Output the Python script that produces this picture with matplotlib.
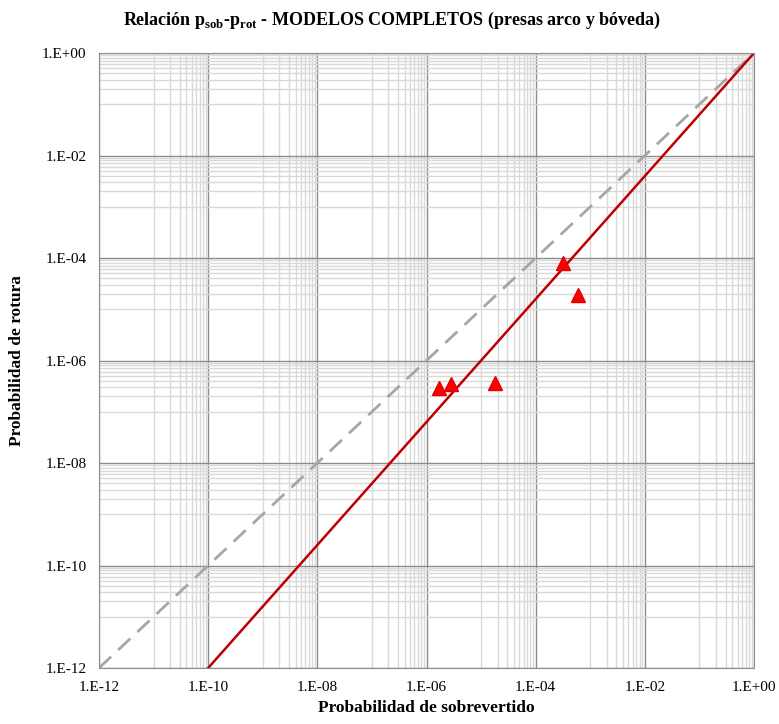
import numpy as np
import matplotlib
matplotlib.use("Agg")
import matplotlib.pyplot as plt
from matplotlib.ticker import FixedLocator, FuncFormatter, NullFormatter

# observed points (p_sob, p_rot)
p_sob = [1.7e-6, 2.8e-6, 1.8e-5, 3.2e-4, 6.0e-4]
p_rot = [2.9e-7, 3.5e-7, 3.6e-7, 8.1e-5, 1.9e-5]

# reference lines
line_x = [1e-12, 1e0]
fit_exp = 1.2  # p_rot = p_sob ** 1.2

major_exps = list(range(-12, 1, 2))
minor_exps = list(range(-11, 0, 2))

plt.rcParams["font.family"] = ["Liberation Serif", "DejaVu Serif"]

fig = plt.figure(figsize=(7.79, 7.24), dpi=100)
ax = fig.add_axes([0.127, 0.0773, 0.841, 0.8495])
ax.set_xscale("log")
ax.set_yscale("log")
ax.set_xlim(1e-12, 1e0)
ax.set_ylim(1e-12, 1e0)

majors = [10.0 ** e for e in major_exps]
minors = [k * 10.0 ** e for e in minor_exps for k in range(1, 10)]
for a in (ax.xaxis, ax.yaxis):
    a.set_major_locator(FixedLocator(majors))
    a.set_minor_locator(FixedLocator(minors))
    a.set_major_formatter(FuncFormatter(lambda v, p: "1.E%+03d" % round(np.log10(v))))
    a.set_minor_formatter(NullFormatter())

ax.grid(True, which="minor", color="#d9d9d9", linewidth=1.0)
ax.grid(True, which="major", color="#8c8c8c", linewidth=1.0)
ax.set_axisbelow(True)
ax.tick_params(which="both", length=0, labelsize=11, pad=9)
for s in ax.spines.values():
    s.set_color("#8c8c8c")

xs = np.array(line_x)
ax.plot(xs, xs, color="#a6a6a6", linewidth=2, dashes=(6, 3.5))
ax.plot(xs, xs ** fit_exp, color="#c00000", linewidth=1.8)

ax.plot(p_sob, p_rot, linestyle="none", marker="^", markersize=10,
        markerfacecolor="#ff0000", markeredgecolor="#e00000", clip_on=False)

ax.set_xlabel("Probabilidad de sobrevertido", fontsize=12.5, fontweight="bold", labelpad=5)
ax.set_ylabel("Probabilidad de rotura", fontsize=12.5, fontweight="bold", labelpad=12)
fig.text(0.503, 0.972,
         r"Relación p$_{\mathregular{sob}}$-p$_{\mathregular{rot}}$ - MODELOS COMPLETOS (presas arco y bóveda)",
         fontsize=13, fontweight="bold", ha="center", va="center")

fig.savefig("out.png", dpi=100)
